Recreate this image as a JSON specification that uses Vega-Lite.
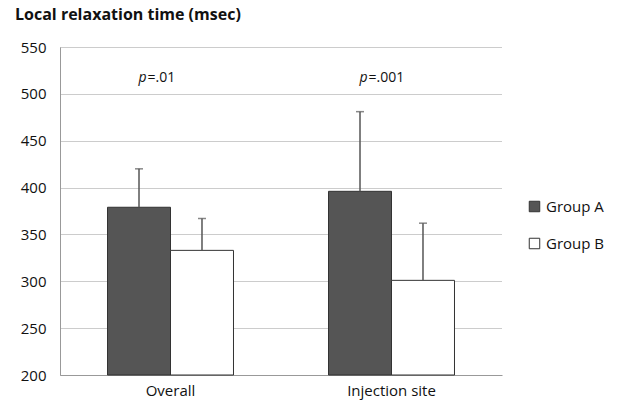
{
  "$schema": "https://vega.github.io/schema/vega-lite/v6.json",
  "width": 442,
  "height": 328,
  "autosize": "none",
  "padding": {"left": 60, "top": 47, "right": 116, "bottom": 37},
  "background": "white",
  "title": {"text": "Local relaxation time (msec)", "anchor": "start", "frame": "group", "dx": -45, "offset": 17, "fontSize": 16, "fontWeight": "bold", "font": "Open Sans", "color": "#111"},
  "config": {"view": {"stroke": "transparent"}, "font": "Open Sans"},
  "data": {"values": [
    {"site": "Overall", "group": "Group A", "mean": 379, "upper": 420},
    {"site": "Overall", "group": "Group B", "mean": 333, "upper": 367},
    {"site": "Injection site", "group": "Group A", "mean": 396, "upper": 481},
    {"site": "Injection site", "group": "Group B", "mean": 301, "upper": 362}
  ]},
  "encoding": {
    "x": {"field": "site", "type": "nominal", "sort": ["Overall", "Injection site"],
      "scale": {"paddingInner": 0.43, "paddingOuter": 0.215},
      "axis": {"title": null, "grid": false, "labelAngle": 0, "ticks": false, "domainColor": "#999", "labelFontSize": 15, "labelPadding": 8, "labelColor": "#111"}}
  },
  "layer": [
    {
      "mark": {"type": "bar", "stroke": "#333", "strokeWidth": 1},
      "encoding": {
        "xOffset": {"field": "group", "type": "nominal", "sort": ["Group A", "Group B"]},
        "y": {"field": "mean", "type": "quantitative",
          "scale": {"domain": [200, 550], "nice": false, "zero": false},
          "axis": {"title": null, "values": [200, 250, 300, 350, 400, 450, 500, 550], "ticks": false, "domainColor": "#999", "gridColor": "#999", "gridDash": [1, 1], "labelFontSize": 15, "labelPadding": 14, "labelColor": "#111"}},
        "y2": {"datum": 200},
        "fill": {"field": "group", "type": "nominal",
          "scale": {"domain": ["Group A", "Group B"], "range": ["#555555", "#ffffff"]},
          "legend": {"orient": "none", "legendX": 467, "legendY": 152, "title": null, "symbolType": "square", "symbolSize": 110, "symbolStrokeColor": "#333", "symbolStrokeWidth": 1, "labelFontSize": 15, "rowPadding": 21, "labelOffset": 4, "labelColor": "#111"}}
      }
    },
    {
      "mark": {"type": "rule", "color": "#555", "strokeWidth": 1.5},
      "encoding": {
        "xOffset": {"field": "group", "type": "nominal", "sort": ["Group A", "Group B"]},
        "y": {"field": "mean", "type": "quantitative"},
        "y2": {"field": "upper"}
      }
    },
    {
      "mark": {"type": "tick", "color": "#555", "thickness": 1.5, "size": 8, "orient": "horizontal"},
      "encoding": {
        "xOffset": {"field": "group", "type": "nominal", "sort": ["Group A", "Group B"]},
        "y": {"field": "upper", "type": "quantitative"}
      }
    },
    {
      "data": {"values": [{"site": "Overall", "p": "p", "rest": "=.01"}, {"site": "Injection site", "p": "p", "rest": "=.001"}]},
      "mark": {"type": "text", "align": "left", "baseline": "middle", "dx": -32, "fontSize": 14, "fontStyle": "italic", "color": "#111"},
      "encoding": {"y": {"datum": 517}, "text": {"field": "p"}}
    },
    {
      "data": {"values": [{"site": "Overall", "p": "p", "rest": "=.01"}, {"site": "Injection site", "p": "p", "rest": "=.001"}]},
      "mark": {"type": "text", "align": "left", "baseline": "middle", "dx": -23, "fontSize": 14, "color": "#111"},
      "encoding": {"y": {"datum": 517}, "text": {"field": "rest"}}
    }
  ]
}
